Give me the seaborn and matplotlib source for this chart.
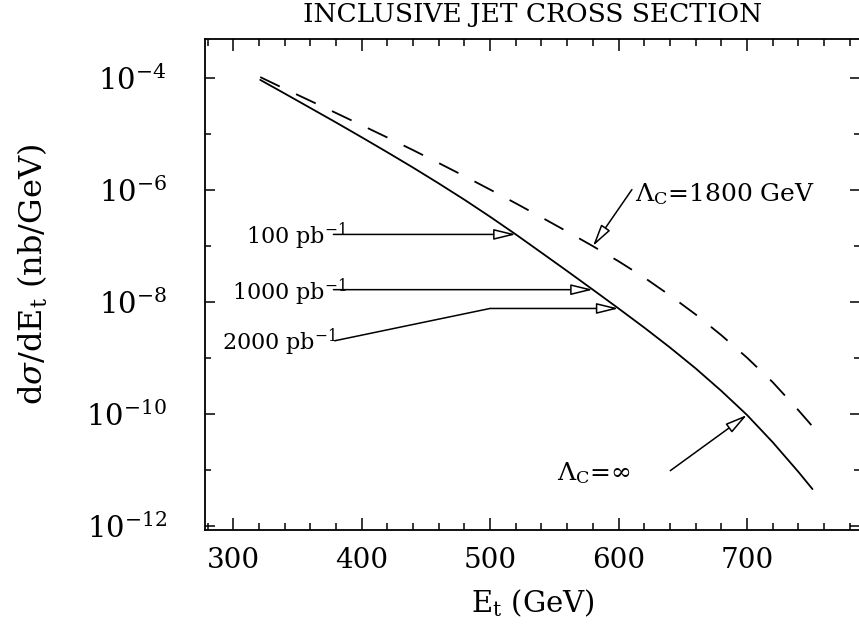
import numpy as np
import pandas as pd
import matplotlib
matplotlib.use("Agg")
import matplotlib.pyplot as plt
import seaborn as sns
from matplotlib.ticker import FixedLocator, NullFormatter, LogFormatterSciNotation

# ---------------- data ----------------
et_sm = [321, 340, 360, 380, 400, 420, 440, 460, 480, 500, 520, 540,
         560, 580, 600, 620, 640, 660, 680, 700, 720, 740, 751]
xs_sm = [9.33e-5, 5.33e-5, 2.94e-5, 1.62e-5, 8.81e-6, 4.75e-6, 2.53e-6, 1.32e-6,
         6.75e-7, 3.35e-7, 1.62e-7, 7.64e-8, 3.59e-8, 1.67e-8, 7.71e-9, 3.51e-9,
         1.55e-9, 6.56e-10, 2.60e-10, 9.66e-11, 3.15e-11, 9.31e-12, 4.58e-12]

et_ci = [321, 340, 360, 380, 400, 420, 440, 460, 480, 500, 520, 540,
         560, 580, 600, 620, 640, 660, 680, 700, 720, 740, 751]
xs_ci = [1.047e-4, 6.46e-5, 3.94e-5, 2.39e-5, 1.445e-5, 8.71e-6, 5.19e-6, 3.05e-6,
         1.78e-6, 1.023e-6, 5.82e-7, 3.27e-7, 1.82e-7, 1.0e-7, 5.37e-8, 2.75e-8,
         1.32e-8, 6.03e-9, 2.57e-9, 1.02e-9, 3.72e-10, 1.175e-10, 6.03e-11]

x_major = [300, 400, 500, 600, 700]
y_major = [1e-4, 1e-6, 1e-8, 1e-10, 1e-12]
y_minor = [1e-5, 1e-7, 1e-9, 1e-11]

lumi_labels = ["100 pb$^{-1}$", "1000 pb$^{-1}$", "2000 pb$^{-1}$"]
lumi_reach = [520, 580, 600]          # E_t reach pointed to on the solid curve
title = "INCLUSIVE JET CROSS SECTION"
label_ci = r"$\Lambda_{\mathrm{C}}$=1800 GeV"
label_sm = r"$\Lambda_{\mathrm{C}}$=$\infty$"

df = pd.DataFrame({
    "Et": et_sm + et_ci,
    "xs": xs_sm + xs_ci,
    "model": ["sm"] * len(et_sm) + ["ci"] * len(et_ci),
})

# ---------------- style ----------------
sns.set_style("ticks")
plt.rcParams["font.family"] = ["DejaVu Serif"]
plt.rcParams["mathtext.fontset"] = "dejavuserif"
for k in ["text.color", "axes.labelcolor", "xtick.color", "ytick.color", "axes.edgecolor"]:
    plt.rcParams[k] = "black"

fig = plt.figure(figsize=(8.59, 6.29), dpi=100)
ax = fig.add_axes([205 / 859, 1 - 530 / 629, (860 - 205) / 859, (530 - 39) / 629])

sns.lineplot(data=df[df.model == "sm"], x="Et", y="xs", ax=ax, color="black",
             lw=1.3, sort=True, estimator=None)
sns.lineplot(data=df[df.model == "ci"], x="Et", y="xs", ax=ax, color="black",
             lw=1.3, sort=True, estimator=None, linestyle=(0, (12, 10)))

ax.set_yscale("log")
ax.set_xlim(278, 788)
ax.set_ylim(10 ** -12.07, 10 ** -3.3)

ax.set_xticks(x_major)
ax.set_xticklabels([str(v) for v in x_major])
ax.xaxis.set_minor_locator(FixedLocator(np.arange(280, 800, 20)))
ax.yaxis.set_major_locator(FixedLocator(y_major))
ax.yaxis.set_major_formatter(LogFormatterSciNotation())
ax.yaxis.set_minor_locator(FixedLocator(y_minor))
ax.yaxis.set_minor_formatter(NullFormatter())

ax.tick_params(axis="both", which="both", direction="in", top=True, right=True,
               width=1.1, colors="black")
ax.tick_params(axis="x", which="major", length=8.5, labelsize=20, pad=12)
ax.tick_params(axis="x", which="minor", length=5)
ax.tick_params(axis="y", which="major", length=7, labelsize=21, pad=27.5)
ax.tick_params(axis="y", which="minor", length=4.5)
for s in ax.spines.values():
    s.set_linewidth(1.3)
    s.set_color("black")

ax.set_xlabel("E$_\\mathrm{t}$ (GeV)", fontsize=21, labelpad=10)
ax.set_ylabel(r"d$\sigma$/dE$_\mathrm{t}$ (nb/GeV)", fontsize=23)
ax.yaxis.set_label_coords(-0.2367, 0.52)
ax.set_title(title, fontsize=19, pad=12)

# ---------------- annotations ----------------
lsm = np.log10(xs_sm)
lci = np.log10(xs_ci)
def on_sm(e):
    return 10 ** np.interp(e, et_sm, lsm)
def on_ci(e):
    return 10 ** np.interp(e, et_ci, lci)

arrow = dict(arrowstyle="-|>,head_length=0.9,head_width=0.22", mutation_scale=15,
             fc="white", ec="black", lw=1.1, shrinkA=0, shrinkB=0)
plain = dict(arrowstyle="-", color="black", lw=1.1, shrinkA=0, shrinkB=0)

# 100 and 1000 pb^-1: horizontal arrows
ax.annotate("", xy=(lumi_reach[0], on_sm(lumi_reach[0])), xytext=(378, on_sm(lumi_reach[0])),
            arrowprops=arrow)
ax.annotate("", xy=(lumi_reach[1], on_sm(lumi_reach[1])), xytext=(378, on_sm(lumi_reach[1])),
            arrowprops=arrow)
# 2000 pb^-1: bent line then arrow
ax.annotate("", xy=(500, on_sm(lumi_reach[2])), xytext=(379, 10 ** -8.69), arrowprops=plain)
ax.annotate("", xy=(lumi_reach[2], on_sm(lumi_reach[2])), xytext=(500, on_sm(lumi_reach[2])),
            arrowprops=arrow)

ax.text(388.7, 10 ** -6.96, lumi_labels[0], ha="right", va="baseline", fontsize=16)
ax.text(388.7, 10 ** -7.96, lumi_labels[1], ha="right", va="baseline", fontsize=16)
ax.text(381, 10 ** -8.85, lumi_labels[2], ha="right", va="baseline", fontsize=16)

# Lambda_C = 1800 GeV
ax.annotate("", xy=(580, on_ci(580)), xytext=(610.4, 10 ** -5.99), arrowprops=arrow)
ax.text(612.7, 10 ** -6.20, label_ci, ha="left", va="baseline", fontsize=18)

# Lambda_C = infinity
ax.annotate("", xy=(700, on_sm(700)), xytext=(640.3, 10 ** -11.01), arrowprops=arrow)
ax.text(552, 10 ** -11.17, label_sm, ha="left", va="baseline", fontsize=18)

fig.savefig("out.png", dpi=100)
